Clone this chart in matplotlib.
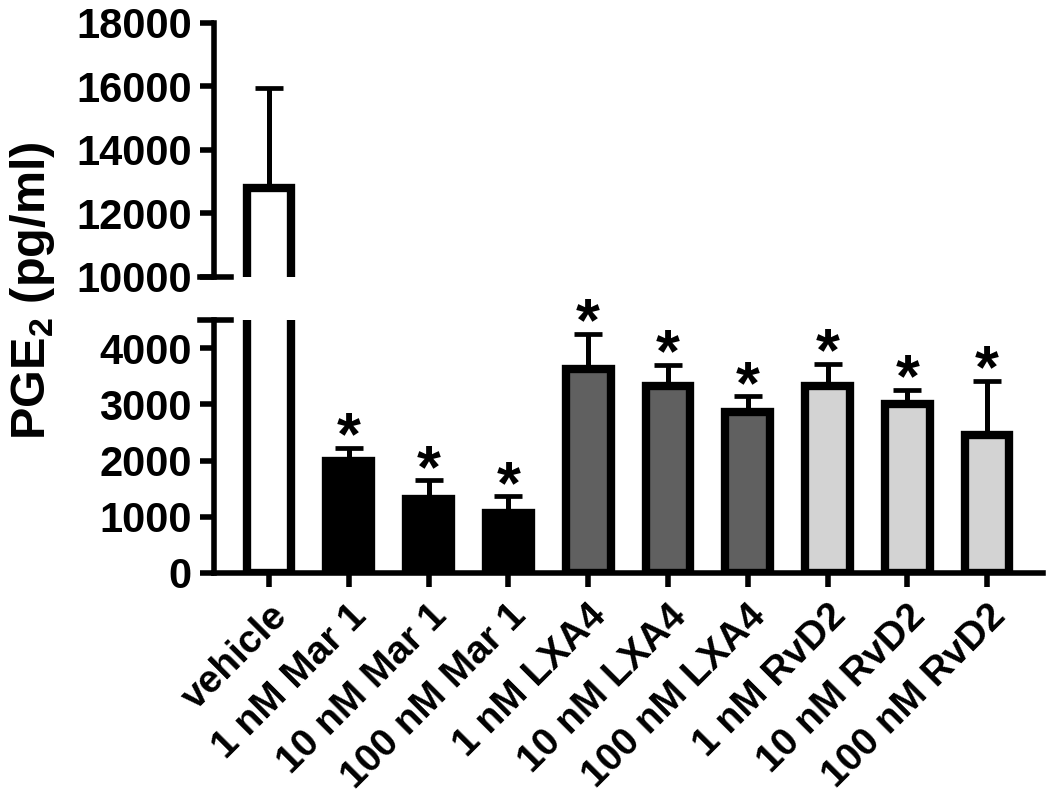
import numpy as np
import matplotlib
matplotlib.use('Agg')
import matplotlib.pyplot as plt

plt.rcParams['font.family'] = ['Liberation Sans', 'DejaVu Sans']
plt.rcParams['font.weight'] = 'bold'
plt.rcParams['mathtext.fontset'] = 'custom'
plt.rcParams['mathtext.rm'] = 'Liberation Sans:bold'
plt.rcParams['mathtext.bf'] = 'Liberation Sans:bold'

# data
groups = ['vehicle', '1 nM Mar 1', '10 nM Mar 1', '100 nM Mar 1',
          '1 nM LXA4', '10 nM LXA4', '100 nM LXA4',
          '1 nM RvD2', '10 nM RvD2', '100 nM RvD2']
means = [12800, 2000, 1310, 1075, 3630, 3330, 2870, 3330, 3010, 2450]
errs = [3150, 225, 335, 285, 620, 370, 270, 390, 250, 970]
fills = ['white', 'black', 'black', 'black',
         '#606060', '#606060', '#606060',
         '#d3d3d3', '#d3d3d3', '#d3d3d3']
signif = ['', '*', '*', '*', '*', '*', '*', '*', '*', '*']

fig = plt.figure(figsize=(10.5, 8.11), dpi=100)
ax_top = fig.add_axes([0.2038, 0.6588, 0.7895, 0.3132])
ax_bot = fig.add_axes([0.2038, 0.2935, 0.7895, 0.3120])

x = np.arange(len(groups))
lw = 4.0

for ax in (ax_top, ax_bot):
    ax.bar(x, means, width=0.56, color=fills, edgecolor='black', linewidth=6, zorder=2)
    ax.errorbar(x, means, yerr=[np.zeros(len(errs)), errs], fmt='none', ecolor='black',
                elinewidth=3.6, capsize=10, capthick=3.4, zorder=3)
    ax.set_xlim(-0.69, 9.7)
    for s in ['top', 'right']:
        ax.spines[s].set_visible(False)
    ax.spines['left'].set_linewidth(lw)
    ax.spines['bottom'].set_linewidth(lw)
    ax.tick_params(axis='y', width=lw, length=10, labelsize=30, pad=6)
    ax.tick_params(axis='x', width=lw, length=10, labelsize=28, pad=8)

ax_top.set_ylim(10000, 18000)
ax_top.set_yticks([10000, 12000, 14000, 16000, 18000])
ax_top.spines['bottom'].set_visible(False)
ax_top.set_xticks([])
ax_top.axhline(10000, xmin=-0.017, xmax=0.02, color='black', lw=lw, clip_on=False)

ax_bot.set_ylim(0, 4500)
ax_bot.set_yticks([0, 1000, 2000, 3000, 4000])
ax_bot.axhline(4500, xmin=-0.017, xmax=0.02, color='black', lw=lw, clip_on=False)
ax_bot.set_xticks(x)
ax_bot.set_xticklabels(groups, rotation=45, ha='right', rotation_mode='anchor')

for i in range(len(groups)):
    if signif[i]:
        ax_bot.annotate(signif[i], (x[i], means[i] + errs[i]), xytext=(0, -14),
                        textcoords='offset points', ha='center', va='bottom',
                        fontsize=44, fontweight='bold')

fig.text(0.031, 0.642, r'PGE$_{2}$ (pg/ml)', rotation=90, ha='center', va='center',
         fontsize=35, fontweight='bold')

fig.savefig('out.png', dpi=100)
